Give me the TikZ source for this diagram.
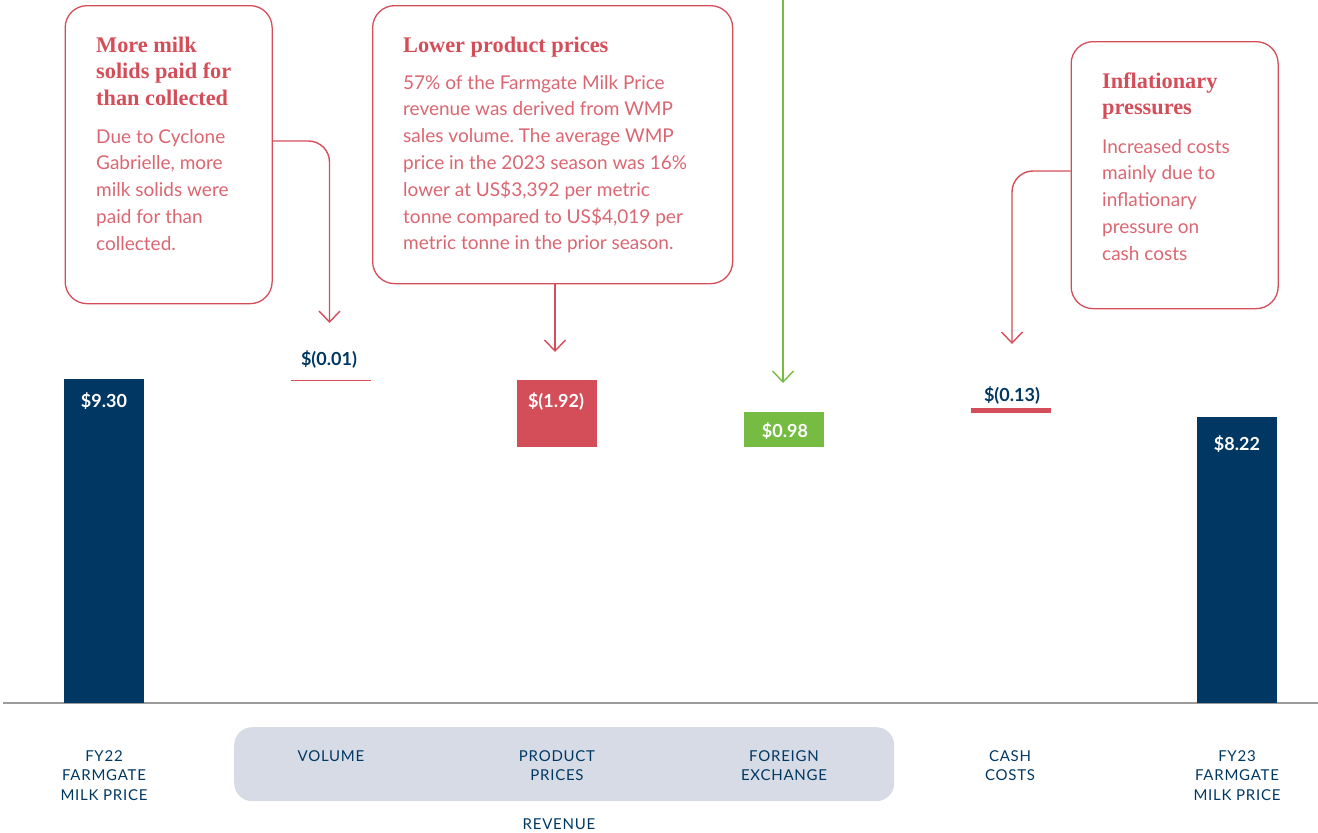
\documentclass[tikz,border=0pt]{standalone}
\usepackage{fontspec}
\usetikzlibrary{arrows.meta}
\newfontfamily\bodyf{Lato}
\newfontfamily\headf{Liberation Serif}
\newfontfamily\capf[LetterSpace=5]{Lato}
\definecolor{navy}{HTML}{003863}
\definecolor{cred}{HTML}{D44E5A}
\definecolor{bodyred}{HTML}{DB6671}
\definecolor{cgreen}{HTML}{76BC43}
\definecolor{band}{HTML}{D6DBE5}
\definecolor{axisgray}{HTML}{9B9B9B}
\frenchspacing
\tikzset{
  callout/.style={draw=cred, line width=1.3pt, rounded corners=22pt, anchor=north west, inner sep=0pt},
  conn/.style={draw=cred, line width=1.4pt, -{Straight Barb[length=11pt,width=21pt,line width=1.4pt]}},
  gconn/.style={draw=cgreen, line width=1.4pt, -{Straight Barb[length=11pt,width=21pt,line width=1.4pt]}},
  headtxt/.style={anchor=base west, inner sep=0pt, align=left, text=cred, font=\headf\bfseries\fontsize{22.3}{26.7}\selectfont},
  bodytxt/.style={anchor=base west, inner sep=0pt, align=left, text=bodyred, font=\bodyf\fontsize{19}{26.8}\selectfont},
  barbox/.style={anchor=north west, inner sep=0pt, minimum width=80pt},
  vallab/.style={anchor=base, inner sep=0pt, font=\bodyf\bfseries\fontsize{18}{20}\selectfont},
  catlab/.style={anchor=base, inner sep=0pt, align=center, text=navy, font=\capf\fontsize{15}{19.5}\selectfont},
}
\begin{document}
\begin{tikzpicture}[x=1pt,y=-1pt]
\useasboundingbox (0,0) rectangle (1318,833);

% category band
\node[fill=band, rounded corners=18pt, anchor=north west, inner sep=0pt, minimum width=660pt, minimum height=74pt] (band) at (234,727) {};

% axis
\draw[axisgray, line width=1.8pt] (3,703) -- (1318,703);

% bars
\node[barbox, fill=navy, minimum height=324pt] (fy22) at (64,379) {};
\node[barbox, fill=cred, minimum height=67pt] (prod) at (517,380) {};
\node[barbox, fill=cgreen, minimum height=35pt] (fx) at (744,412) {};
\node[barbox, fill=cred, minimum height=5pt] (cash) at (971,408) {};
\node[barbox, fill=navy, minimum height=286pt] (fy23) at (1197,417) {};
\node[barbox, fill=cred, minimum height=1.2pt] (vol) at (291,379.4) {};

% value labels
\node[vallab, text=white] (v1) at (104,407) {\$9.30};
\node[vallab, text=navy] (v2) at (329,365) {\$(0.01)};
\node[vallab, text=white] (v3) at (556,407) {\$(1.92)};
\node[vallab, text=white] (v4) at (785,437) {\$0.98};
\node[vallab, text=navy] (v5) at (1012,401) {\$(0.13)};
\node[vallab, text=white] (v6) at (1237,450) {\$8.22};

% callout boxes
\node[callout, minimum width=207pt, minimum height=298pt] (b1) at (64.5,5) {};
\node[callout, minimum width=360pt, minimum height=278pt] (b2) at (372,5) {};
\node[callout, minimum width=207pt, minimum height=267pt] (b3) at (1070.5,41) {};

% multi-line nodes: base anchor = baseline of the last line
\node[headtxt] (h1) at (96,105.4) {More milk\\solids paid for\\than collected};
\node[bodytxt] (t1) at (96,250.2) {Due to Cyclone\\Gabrielle, more\\milk solids were\\paid for than\\collected.};

\node[headtxt] (h2) at (403,52) {Lower product prices};
\node[bodytxt] (t2) at (403,249.8) {57\% of the Farmgate Milk Price\\revenue was derived from WMP\\sales volume. The average WMP\\price in the 2023 season was 16\%\\lower at US\$3,392 per metric\\tonne compared to US\$4,019 per\\metric tonne in the prior season.};

\node[headtxt] (h3) at (1102,114.7) {Inflationary\\pressures};
\node[bodytxt] (t3) at (1102,260.2) {Increased costs\\mainly due to\\inflationary\\pressure on\\cash costs};

% connectors
\coordinate (k1) at (329.5,141);
\coordinate (a1) at (329.5,323);
\draw[conn, rounded corners=21pt] (b1.east |- k1) -- (k1) -- (a1);

\coordinate (a2) at (555,352);
\draw[conn] (b2.south -| a2) -- (a2);

\coordinate (g0) at (783,0);
\coordinate (a3) at (783,383);
\draw[gconn] (g0) -- (a3);

\coordinate (k3) at (1012,171);
\coordinate (a4) at (1012,344);
\draw[conn, rounded corners=21pt] (b3.west |- k3) -- (k3) -- (a4);

% category labels
\node[catlab] (c1) at (104,800) {FY22\\FARMGATE\\MILK PRICE};
\node[catlab] (c2) at (331,761) {VOLUME};
\node[catlab] (c3) at (557,780.5) {PRODUCT\\PRICES};
\node[catlab] (c4) at (784,780.5) {FOREIGN\\EXCHANGE};
\node[catlab] (c5) at (1010,780.5) {CASH\\COSTS};
\node[catlab] (c6) at (1237,800) {FY23\\FARMGATE\\MILK PRICE};
\node[catlab] (c7) at (559,829) {REVENUE};
\end{tikzpicture}
\end{document}
